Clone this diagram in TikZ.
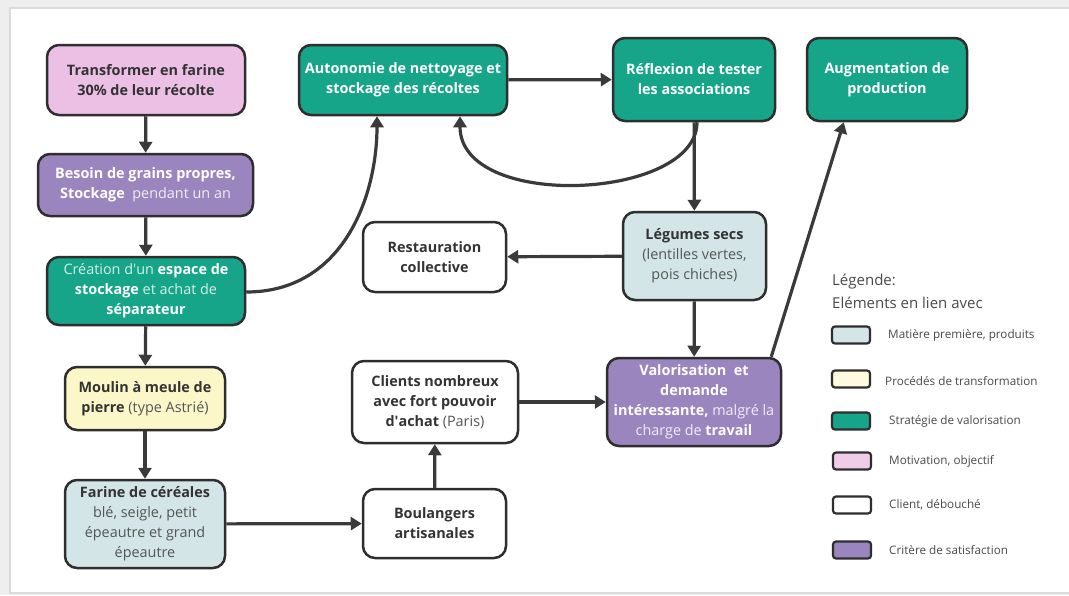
\documentclass[tikz,border=0pt]{standalone}
\usepackage{fontspec}
\setmainfont{Open Sans}
\usetikzlibrary{arrows.meta,calc}
\definecolor{pinkf}{HTML}{EBC0E4}
\definecolor{purplef}{HTML}{9A85BE}
\definecolor{greenf}{HTML}{16A588}
\definecolor{yellowf}{HTML}{FCF7C8}
\definecolor{bluef}{HTML}{D3E5E7}
\definecolor{edge}{HTML}{2E2E2E}
\definecolor{arrowc}{HTML}{3A3A3A}
\definecolor{darktxt}{HTML}{333333}
\definecolor{greytxt}{HTML}{555555}
\definecolor{lightgreen}{HTML}{D4F0E8}
\definecolor{lightpurple}{HTML}{F1ECF8}
\definecolor{legtxt}{HTML}{4A4A4A}
\definecolor{bgout}{HTML}{EEEEEE}
\begin{document}
\begin{tikzpicture}[x=1pt,y=-1pt,
  box/.style={draw=edge, line width=2.5pt, rounded corners=12pt, align=center,
    inner sep=0pt, font=\fontsize{14.4}{20}\selectfont, text=darktxt},
  boxw/.style={box, text=white},
  conn/.style={draw=arrowc, line width=3.2pt, -{Triangle[length=11pt,width=13pt]}},
  swatch/.style={draw=edge, line width=2.2pt, rounded corners=3pt, minimum width=38pt, minimum height=17pt, inner sep=0pt},
  legtext/.style={anchor=west, font=\fontsize{11.7}{13}\selectfont, text=legtxt, inner sep=0pt}
]
\useasboundingbox (0,0) rectangle (1069,595);
\fill[bgout] (0,0) rectangle (1069,595);
\fill[black!14] (9,7) rectangle (1069,594);
\fill[white] (11,9) rectangle (1069,592);

% left column
\node[box, fill=pinkf, minimum width=198pt, minimum height=70pt] (tr) at (146,80)
  {\textbf{Transformer en farine}\\\textbf{30\% de leur récolte}};
\node[boxw, fill=purplef, minimum width=215pt, minimum height=62pt] (be) at (145.5,185)
  {\textbf{Besoin de grains propres,}\\\textbf{Stockage}\ \ {\color{lightpurple}pendant un an}};
\node[boxw, fill=greenf, minimum width=198pt, minimum height=68pt] (cr) at (146,291)
  {{\color{lightgreen}Création d\textquotesingle un} \textbf{espace de}\\\textbf{stockage} {\color{lightgreen}et achat de}\\\textbf{séparateur}};
\node[box, fill=yellowf, minimum width=160pt, minimum height=63pt] (mo) at (145,398.5)
  {\textbf{Moulin à meule de}\\\textbf{pierre} {\color{greytxt}(type Astrié)}};
\node[box, fill=bluef, minimum width=160pt, minimum height=88pt] (fa) at (145,524)
  {\textbf{Farine de céréales}\\{\color{greytxt}blé, seigle, petit}\\{\color{greytxt}épeautre et grand}\\{\color{greytxt}épeautre}};

% top row
\node[boxw, fill=greenf, minimum width=208pt, minimum height=70pt] (au) at (403,80)
  {\textbf{Autonomie de nettoyage et}\\\textbf{stockage des récoltes}};
\node[boxw, fill=greenf, minimum width=162pt, minimum height=83pt] (re) at (694,79.5)
  {\textbf{Réflexion de tester}\\\textbf{les associations}};
\node[boxw, fill=greenf, minimum width=160pt, minimum height=83pt] (ag) at (887,79.5)
  {\textbf{Augmentation de}\\\textbf{production}};

% middle
\node[box, fill=white, minimum width=143pt, minimum height=70pt] (rs) at (434.5,257)
  {\textbf{Restauration}\\\textbf{collective}};
\node[box, fill=bluef, minimum width=143pt, minimum height=88pt] (lg) at (694.5,256)
  {\textbf{Légumes secs}\\{\color{greytxt}(lentilles vertes,}\\{\color{greytxt}pois chiches)}};
\node[box, fill=white, minimum width=166pt, minimum height=82pt] (cl) at (435,402)
  {\textbf{Clients nombreux}\\\textbf{avec fort pouvoir}\\\textbf{d\textquotesingle achat} {\color{greytxt}(Paris)}};
\node[boxw, fill=purplef, minimum width=174pt, minimum height=88pt] (va) at (694,402)
  {\textbf{Valorisation\ \ et}\\\textbf{demande}\\\textbf{intéressante,} {\color{lightpurple}malgré la}\\{\color{lightpurple}charge de} \textbf{travail}};
\node[box, fill=white, minimum width=143pt, minimum height=69pt] (bo) at (434.5,523.5)
  {\textbf{Boulangers}\\\textbf{artisanales}};

% connectors
\draw[conn] (tr) -- (be);
\draw[conn] (be) -- (cr);
\draw[conn] (cr) -- (mo);
\draw[conn] (mo) -- (fa);
\draw[conn] (fa) -- (bo);
\draw[conn] (bo) -- (cl);
\draw[conn] (cl) -- (va);
\draw[conn] (au) -- (re);
\draw[conn] (re) -- (lg);
\draw[conn] (lg) -- (rs);
\draw[conn] (lg) -- (va);
\coordinate (cra) at ($(cr.east)+(0,1)$);
\coordinate (au1) at ($(au.south)+(-26,0)$);
\coordinate (au2) at ($(au.south)+(57,0)$);
\coordinate (reb) at ($(re.south)+(3,0)$);
\coordinate (vat) at ($(va.north east)+(-11,0)$);
\coordinate (agb) at ($(ag.south west)+(38,0)$);
\draw[conn] (cra) .. controls +(97,0) and +(0,80) .. (au1);
\draw[conn] (reb) .. controls +(0,78) and +(0,95) .. (au2);
\draw[conn] (vat) -- (agb);

% legend
\node[anchor=west, inner sep=0pt, font=\fontsize{15}{17}\selectfont, text=legtxt] (lt1) at (832,282) {Légende:};
\node[anchor=west, inner sep=0pt, font=\fontsize{15}{17}\selectfont, text=legtxt] (lt2) at (832,303) {Eléments en lien avec};
\node[swatch, fill=bluef] (s1) at (851,335) {};
\node[swatch, fill=yellowf!60] (s2) at (851,379) {};
\node[swatch, fill=greenf] (s3) at (851,421) {};
\node[swatch, fill=pinkf!80] (s4) at (852,461) {};
\node[swatch, fill=white] (s5) at (852,505) {};
\node[swatch, fill=purplef] (s6) at (852,550) {};
\node[legtext] (t1) at (888,335) {Matière première, produits};
\node[legtext] (t2) at (885,381) {Procédés de transformation};
\node[legtext] (t3) at (889,421) {Stratégie de valorisation};
\node[legtext] (t4) at (889,461) {Motivation, objectif};
\node[legtext] (t5) at (889,505) {Client, débouché};
\node[legtext] (t6) at (889,550) {Critère de satisfaction};
\end{tikzpicture}
\end{document}
